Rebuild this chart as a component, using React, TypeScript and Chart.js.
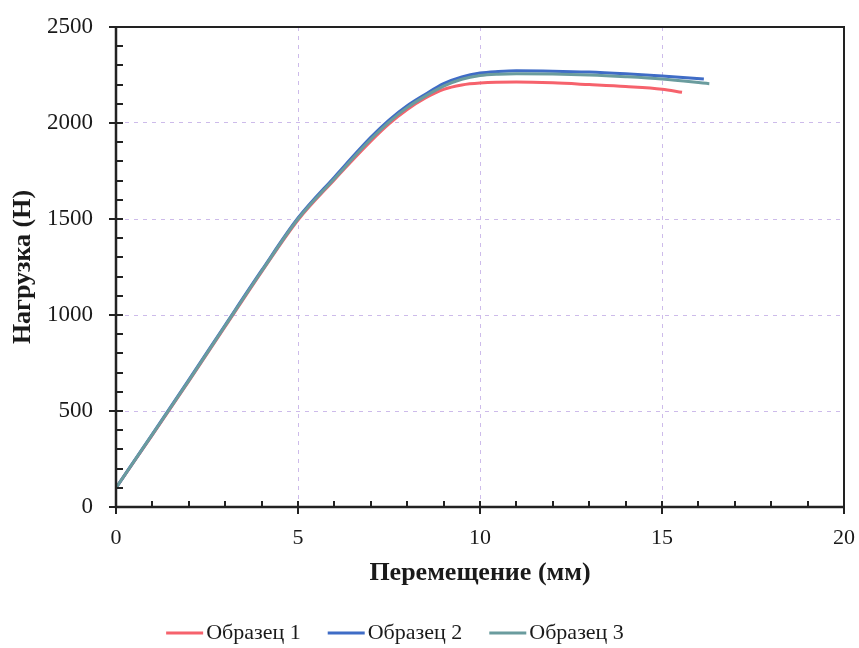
import React, { useEffect, useRef } from "react";
import { Chart, registerables } from "chart.js";

Chart.register(...registerables);

const FONT = "'Liberation Serif', 'Times New Roman', serif";

const seriesNames = ["Образец 1", "Образец 2", "Образец 3"];
const seriesColors = ["#f6626c", "#3f6cc6", "#6a9c9e"];

const disp1 = [0, 1, 2, 3, 4, 5, 6, 7, 7.5, 8, 8.5, 9, 9.5, 10, 11, 12, 13, 14, 15, 15.55];
const load1 = [100, 375, 655, 940, 1225, 1495, 1705, 1905, 1995, 2070, 2130, 2175, 2198, 2208, 2213, 2209, 2200, 2190, 2176, 2160];

const disp2 = [0, 1, 2, 3, 4, 5, 6, 7, 7.5, 8, 8.5, 9, 9.5, 10, 10.5, 11, 12, 13, 14, 15, 16.15];
const load2 = [100, 380, 662, 948, 1232, 1505, 1718, 1925, 2015, 2090, 2150, 2205, 2240, 2260, 2268, 2272, 2270, 2265, 2256, 2245, 2229];

const disp3 = [0, 1, 2, 3, 4, 5, 6, 7, 7.5, 8, 8.5, 9, 9.5, 10, 10.5, 11, 12, 13, 14, 15, 16.3];
const load3 = [100, 378, 658, 944, 1228, 1500, 1710, 1915, 2005, 2080, 2140, 2192, 2228, 2247, 2254, 2256, 2255, 2250, 2241, 2229, 2205];

const xTitle = "Перемещение (мм)";
const yTitle = "Нагрузка (Н)";
const xMajorStep = 5;
const xMinorStep = 1;
const yMajorStep = 500;
const yMinorStep = 100;

const framePlugin = {
  id: "frame",
  afterDraw(chart: any) {
    const ctx = chart.ctx as CanvasRenderingContext2D;
    const { left, right, top, bottom } = chart.chartArea;
    const xs = chart.scales.x;
    const ys = chart.scales.y;
    ctx.save();
    ctx.strokeStyle = "#222";
    ctx.lineCap = "butt";
    ctx.lineWidth = 2;
    ctx.beginPath();
    ctx.moveTo(left, top);
    ctx.lineTo(right, top);
    ctx.lineTo(right, bottom);
    ctx.stroke();
    ctx.lineWidth = 2.5;
    ctx.beginPath();
    ctx.moveTo(left, top);
    ctx.lineTo(left, bottom);
    ctx.lineTo(right, bottom);
    ctx.stroke();
    ctx.lineWidth = 2;
    ctx.beginPath();
    for (let v = ys.min; v <= ys.max + 1e-6; v += yMinorStep) {
      const py = Math.round(ys.getPixelForValue(v));
      const major = Math.abs(v % yMajorStep) < 1e-6;
      ctx.moveTo(major ? left - 7 : left, py);
      ctx.lineTo(left + 7, py);
    }
    for (let v = xs.min; v <= xs.max + 1e-6; v += xMinorStep) {
      const px = Math.round(xs.getPixelForValue(v));
      const major = Math.abs(v % xMajorStep) < 1e-6;
      ctx.moveTo(px, major ? bottom + 7 : bottom);
      ctx.lineTo(px, bottom - 6);
    }
    ctx.stroke();

    ctx.font = `22px ${FONT}`;
    ctx.textBaseline = "middle";
    ctx.textAlign = "left";
    const lineW = 37;
    const gap = 3;
    const itemGap = 27;
    const widths = seriesNames.map((n) => lineW + gap + ctx.measureText(n).width);
    const total = widths.reduce((a, b) => a + b, 0) + itemGap * (widths.length - 1);
    let x = 395 - total / 2;
    const ly = 633;
    seriesNames.forEach((n, i) => {
      ctx.strokeStyle = seriesColors[i];
      ctx.lineWidth = 3;
      ctx.beginPath();
      ctx.moveTo(x, ly);
      ctx.lineTo(x + lineW, ly);
      ctx.stroke();
      ctx.fillStyle = "#1a1a1a";
      ctx.fillText(n, x + lineW + gap, ly);
      x += widths[i] + itemGap;
    });
    ctx.restore();
  },
};

function toPoints(xs: number[], ys: number[]) {
  return xs.map((x, i) => ({ x, y: ys[i] }));
}

export default function App() {
  const ref = useRef<HTMLCanvasElement | null>(null);
  useEffect(() => {
    if (!ref.current) return;
    const gridColor = (c: any) => {
      const v = c.tick && c.tick.value;
      const s = c.scale;
      if (v === s.min || v === s.max) return "rgba(0,0,0,0)";
      return "rgba(200,180,232,0.9)";
    };
    const chart = new Chart(ref.current, {
      type: "line",
      data: {
        datasets: [
          { label: seriesNames[0], data: toPoints(disp1, load1), borderColor: seriesColors[0], order: 2 },
          { label: seriesNames[1], data: toPoints(disp2, load2), borderColor: seriesColors[1], order: 1 },
          { label: seriesNames[2], data: toPoints(disp3, load3), borderColor: seriesColors[2], order: 0 },
        ].map((d) => ({
          ...d,
          borderWidth: 3,
          pointRadius: 0,
          fill: false,
          cubicInterpolationMode: "monotone" as const,
        })),
      },
      options: {
        responsive: false,
        animation: false,
        layout: { padding: { left: 0, right: 15, top: 27, bottom: 59 } },
        plugins: { legend: { display: false }, tooltip: { enabled: false } },
        scales: {
          x: {
            type: "linear",
            min: 0,
            max: 20,
            afterFit: (s: any) => {
              s.height = 82;
            },
            ticks: {
              stepSize: 5,
              padding: 0,
              color: "#1a1a1a",
              font: { family: FONT, size: 22 },
              maxRotation: 0,
              callback: (v: any) => String(v),
            },
            grid: { drawTicks: true, tickLength: 18, tickColor: "rgba(0,0,0,0)", color: gridColor, lineWidth: 1 },
            border: { display: false, dash: [4, 5] },
            title: {
              display: true,
              text: xTitle,
              color: "#1a1a1a",
              font: { family: FONT, size: 26, weight: "bold" },
              padding: { top: 0, bottom: 0 },
            },
          },
          y: {
            type: "linear",
            min: 0,
            max: 2500,
            afterFit: (s: any) => {
              s.width = 116;
            },
            ticks: {
              stepSize: 500,
              padding: 0,
              color: "#1a1a1a",
              font: { family: FONT, size: 23 },
              callback: (v: any) => String(v),
            },
            grid: { drawTicks: true, tickLength: 23, tickColor: "rgba(0,0,0,0)", color: gridColor, lineWidth: 1 },
            border: { display: false, dash: [4, 5] },
            title: {
              display: true,
              text: yTitle,
              color: "#1a1a1a",
              font: { family: FONT, size: 26, weight: "bold" },
              padding: { top: 8, bottom: 0 },
            },
          },
        },
      },
      plugins: [framePlugin],
    });
    return () => chart.destroy();
  }, []);
  return (
    <div style={{ position: "absolute", left: 0, top: 0, width: 859, height: 648, background: "#fff" }}>
      <canvas ref={ref} width={859} height={648} style={{ display: "block" }} />
    </div>
  );
}
